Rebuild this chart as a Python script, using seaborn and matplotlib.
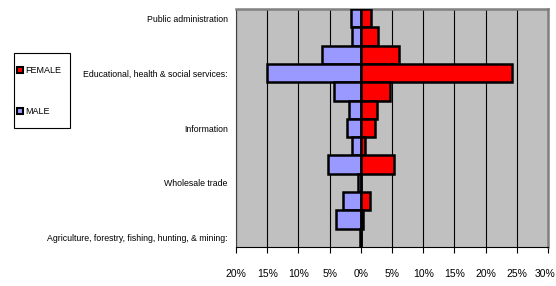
import pandas as pd
from matplotlib import pyplot as plt
from matplotlib.lines import Line2D
from matplotlib.patches import Rectangle
import matplotlib.transforms as mtransforms
import seaborn as sns

# industry categories, bottom to top
industries = [
    "Agriculture, forestry, fishing, hunting, & mining:",
    "Construction",
    "Manufacturing",
    "Wholesale trade",
    "Retail trade",
    "Transportation, warehousing & utilities",
    "Information",
    "Finance, insurance & real estate",
    "Professional & management services",
    "Educational, health & social services:",
    "Arts, entertainment & food services",
    "Other services",
    "Public administration",
]
# only every third category gets a tick label
shown = {0, 3, 6, 9, 12}

male = [-0.2, -3.9, -2.9, -0.5, -5.2, -1.4, -2.2, -1.9, -4.3, -15.0, -6.2, -1.4, -1.5]
female = [0.1, 0.3, 1.5, 0.1, 5.4, 0.6, 2.3, 2.6, 4.7, 24.2, 6.1, 2.7, 1.7]

xticks = [-20, -15, -10, -5, 0, 5, 10, 15, 20, 25, 30]

df = pd.DataFrame({
    "industry": industries * 2,
    "pct": male + female,
    "sex": ["MALE"] * len(male) + ["FEMALE"] * len(female),
})

plt.rcParams['font.family'] = ['Liberation Sans Narrow', 'Liberation Sans', 'DejaVu Sans']

fig = plt.figure(figsize=(5.56, 2.86), dpi=100)
ax = fig.add_axes([236 / 556, 1 - 247 / 286, 312 / 556, 238 / 286])
ax.set_facecolor("#C0C0C0")

order = industries[::-1]  # top to bottom
sns.barplot(
    data=df, y="industry", x="pct", hue="sex", order=order,
    hue_order=["MALE", "FEMALE"], palette={"MALE": "#9999FF", "FEMALE": "#FF0000"},
    saturation=1, dodge=False, width=1.0, orient="h", edgecolor="black",
    linewidth=1.8, ax=ax, legend=False, zorder=3,
)

ax.set_xlim(-20, 30)
ax.set_ylim(len(industries) - 0.5, -0.5)
ax.set_xticks(xticks)
ax.set_xticklabels([f"{abs(t)}%" for t in xticks], fontsize=7.5)
ax.set_yticks(range(len(order)))
ax.set_yticklabels([lab if (len(industries) - 1 - i) in shown else "" for i, lab in enumerate(order)],
                   fontsize=6.3)
ax.tick_params(axis="x", direction="out", length=4, pad=12, color="black")
ax.tick_params(axis="y", length=0, pad=6)
ax.set_xlabel("")
ax.set_ylabel("")
ax.xaxis.grid(True, color="black", linewidth=0.8, zorder=0)
ax.yaxis.grid(False)
ax.set_axisbelow(True)

# keep the last x label inside the figure edge
last = ax.get_xticklabels()[-1]
last.set_horizontalalignment("right")
last.set_transform(last.get_transform() + mtransforms.ScaledTranslation(7 / 100, 0, fig.dpi_scale_trans))

for side in ["top", "right"]:
    ax.spines[side].set_color("#808080")
    ax.spines[side].set_linewidth(1.8)
ax.spines["left"].set_color("#404040")
ax.spines["bottom"].set_color("black")

# legend box drawn by hand, entries placed inside it
fig.patches.append(Rectangle((14 / 556, 1 - 128 / 286), 56 / 556, 75 / 286,
                             transform=fig.transFigure, facecolor="white",
                             edgecolor="black", linewidth=0.8))
handles = [
    Line2D([], [], marker="s", linestyle="", markerfacecolor="#FF0000",
           markeredgecolor="black", markeredgewidth=1.5, markersize=4.5, label="FEMALE"),
    Line2D([], [], marker="s", linestyle="", markerfacecolor="#9999FF",
           markeredgecolor="black", markeredgewidth=1.5, markersize=4.5, label="MALE"),
]
fig.legend(handles=handles, loc="center left", bbox_to_anchor=(17 / 556, 1 - 91 / 286),
           fontsize=6.5, frameon=False, handlelength=0.6, handletextpad=0.3,
           labelspacing=3.6, borderpad=0, borderaxespad=0)

fig.savefig("out.png", dpi=100)
